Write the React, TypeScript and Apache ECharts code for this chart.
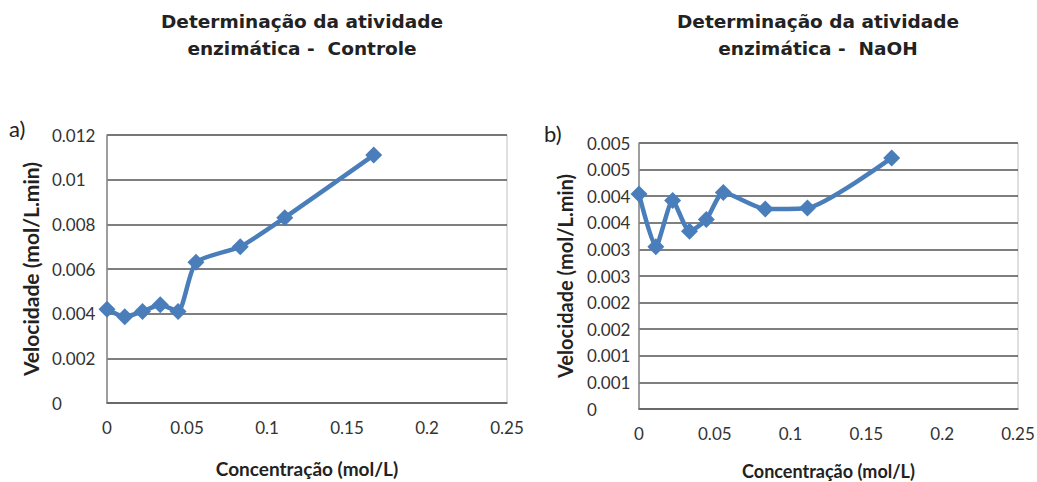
import React, { useEffect, useRef } from "react";
import * as echarts from "echarts";

const concentracao = [0, 0.0111, 0.0222, 0.0333, 0.0444, 0.0556, 0.0833, 0.1111, 0.1667];
const velocidadeControle = [0.0042, 0.00386, 0.0041, 0.0044, 0.0041, 0.0063, 0.007, 0.0083, 0.0111];
const velocidadeNaOH = [0.00404, 0.00305, 0.00392, 0.00334, 0.00356, 0.00407, 0.00376, 0.00378, 0.00472];

const xTickLabels = ["0", "0.05", "0.1", "0.15", "0.2", "0.25"];
const yTickLabelsA = ["0", "0.002", "0.004", "0.006", "0.008", "0.01", "0.012"];
const yTickLabelsB = ["0", "0.001", "0.001", "0.002", "0.002", "0.003", "0.003", "0.004", "0.004", "0.005", "0.005"];

const titleA = "Determinação da atividade\nenzimática -  Controle";
const titleB = "Determinação da atividade\nenzimática -  NaOH";
const yName = "Velocidade (mol/L.min)";
const xName = "Concentração (mol/L)";

const BLUE = "#4a7ebb";
const LABEL_FONT = "Lato";

function pick(labels: string[], step: number) {
  return (v: number) => {
    const i = Math.round(v / step);
    return labels[i] ?? "";
  };
}

export default function App() {
  const ref = useRef<HTMLDivElement>(null);
  useEffect(() => {
    if (!ref.current) return;
    const chart = echarts.init(ref.current, null, { renderer: "svg" });
    const xAxisBase = (gridIndex: number, gap: number, nameSize: number) => ({
      gridIndex,
      type: "value",
      min: 0,
      max: 0.25,
      interval: 0.05,
      name: xName,
      nameLocation: "middle",
      nameGap: gap,
      nameTextStyle: { fontFamily: LABEL_FONT, fontWeight: "bold", fontSize: nameSize, color: "#222" },
      axisLine: { show: true, lineStyle: { color: "#666", width: 1.5 } },
      axisTick: { show: false },
      splitLine: { show: false },
      axisLabel: {
        fontFamily: LABEL_FONT,
        fontSize: 17,
        color: "#333",
        margin: 16,
        formatter: pick(xTickLabels, 0.05),
      },
    });
    const yAxisBase = (
      gridIndex: number,
      max: number,
      interval: number,
      labels: string[],
      margin: number,
      gap: number,
      nameSize: number
    ) => ({
      gridIndex,
      type: "value",
      min: 0,
      max,
      interval,
      name: yName,
      nameLocation: "middle",
      nameRotate: 90,
      nameGap: gap,
      nameTextStyle: { fontFamily: LABEL_FONT, fontWeight: "bold", fontSize: nameSize, color: "#222" },
      axisLine: { show: true, lineStyle: { color: "#888", width: 1.5 } },
      axisTick: { show: false },
      splitLine: { show: true, lineStyle: { color: "#555", width: 1.5 } },
      axisLabel: {
        fontFamily: LABEL_FONT,
        fontSize: 17,
        color: "#333",
        align: "left",
        margin,
        formatter: pick(labels, interval),
      },
    });
    const seriesBase = (idx: number, values: number[]) => ({
      type: "line",
      xAxisIndex: idx,
      yAxisIndex: idx,
      data: concentracao.map((c, i) => [c, values[i]]),
      smooth: 0.2,
      symbol: "diamond",
      symbolSize: 17,
      lineStyle: { color: BLUE, width: 4.5 },
      itemStyle: { color: BLUE },
    });
    chart.setOption({
      animation: false,
      backgroundColor: "#fff",
      grid: [
        {
          left: 107, top: 135, width: 400, height: 268,
          show: true, borderColor: "#c0c0c0", borderWidth: 1,
          containLabel: false, outerBoundsMode: "none",
        },
        {
          left: 639, top: 143, width: 379, height: 266,
          show: true, borderColor: "#c0c0c0", borderWidth: 1,
          containLabel: false, outerBoundsMode: "none",
        },
      ],
      xAxis: [xAxisBase(0, 56, 19), xAxisBase(1, 53, 18)],
      yAxis: [
        yAxisBase(0, 0.012, 0.002, yTickLabelsA, 55, 66, 21),
        yAxisBase(1, 0.005, 0.0005, yTickLabelsB, 52, 64, 20),
      ],
      series: [seriesBase(0, velocidadeControle), seriesBase(1, velocidadeNaOH)],
      graphic: [
        {
          type: "text",
          x: 302,
          y: 8,
          style: {
            text: titleA,
            align: "center",
            fontFamily: "DejaVu Sans",
            fontWeight: "bold",
            fontSize: 18.5,
            lineHeight: 27,
            fill: "#222",
          },
        },
        {
          type: "text",
          x: 818,
          y: 8,
          style: {
            text: titleB,
            align: "center",
            fontFamily: "DejaVu Sans",
            fontWeight: "bold",
            fontSize: 18.5,
            lineHeight: 27,
            fill: "#222",
          },
        },
        {
          type: "text",
          x: 9,
          y: 117,
          style: { text: "a)", fontFamily: LABEL_FONT, fontSize: 22, fill: "#222" },
        },
        {
          type: "text",
          x: 544,
          y: 122,
          style: { text: "b)", fontFamily: LABEL_FONT, fontSize: 22, fill: "#222" },
        },
      ],
    });
    return () => chart.dispose();
  }, []);
  return (
    <div
      ref={ref}
      style={{ position: "fixed", left: 0, top: 0, width: 1037, height: 482 }}
    />
  );
}
